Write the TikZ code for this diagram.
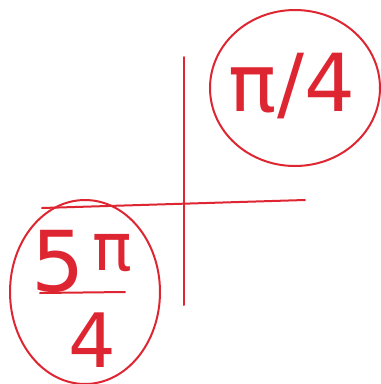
\documentclass[tikz,border=0pt]{standalone}
\usepackage{fontspec}
\setmainfont{DejaVu Sans}
\usetikzlibrary{shapes.geometric}
\definecolor{ink}{RGB}{222,38,50}
\begin{document}
\begin{tikzpicture}[x=1pt,y=-1pt,
  stroke/.style={draw=ink,line width=2pt,line cap=round},
  bubble/.style={stroke,ellipse,inner sep=0pt},
  lbl/.style={text=ink,inner sep=0pt}]
\useasboundingbox (0,0) rectangle (381,384);
\fill[white] (0,0) rectangle (381,384);
% axes
\coordinate (vt) at (184,57);
\coordinate (vb) at (184,305);
\coordinate (hl) at (42,208);
\coordinate (hr) at (305,200);
\draw[stroke] (vt) -- (vb);
\draw[stroke] (hl) -- (hr);
% first quadrant label
\node[bubble,minimum width=170pt,minimum height=156pt] (q1) at (295,88) {};
\node[lbl] (t1) at (292,86) {\fontsize{80}{80}\selectfont π/4};
% third quadrant label
\node[bubble,minimum width=150pt,minimum height=184pt] (q3) at (85,292) {};
\node[lbl] (n5) at (58,261) {\fontsize{84}{84}\selectfont 5};
\node[lbl] (npi) at (112,253) {\fontsize{66}{66}\selectfont π};
\coordinate (bl) at (40,293);
\coordinate (br) at (125,292);
\draw[stroke] (bl) -- (br);
\node[lbl] (n4) at (92,340) {\fontsize{75}{75}\selectfont 4};
\end{tikzpicture}
\end{document}
